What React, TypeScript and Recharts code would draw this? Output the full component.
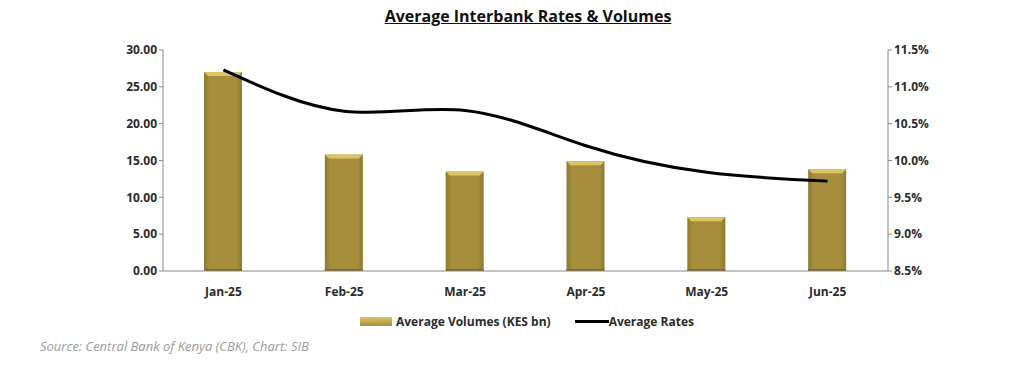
import { ComposedChart, Bar, Line, XAxis, YAxis } from "recharts";

const months = ["Jan-25", "Feb-25", "Mar-25", "Apr-25", "May-25", "Jun-25"];
const volumes = [27.0, 15.8, 13.5, 14.9, 7.3, 13.8]; // KES bn
const rates = [11.23, 10.67, 10.68, 10.2, 9.84, 9.72]; // %
const volumeTicks = [0, 5, 10, 15, 20, 25, 30];
const rateTicks = [8.5, 9, 9.5, 10, 10.5, 11, 11.5];
const bandTicks = [1, 2, 3, 4, 5]; // boundaries between months

const data = months.map((m, i) => ({ month: m, volume: volumes[i], rate: rates[i] }));

const FONT = "'Open Sans', 'Liberation Sans', sans-serif";
const tickStyle = { fontSize: 12, fontWeight: 700, fill: "#2b2b2b", fontFamily: FONT };

function GoldBar(props: any) {
  const { x, y, width, height } = props;
  if (!height || height <= 0) return null;
  const b = 4;
  return (
    <g>
      <rect x={x} y={y} width={width} height={height} fill="url(#goldFill)" />
      <polygon
        points={`${x},${y} ${x + width},${y} ${x + width - b},${y + b} ${x + b},${y + b}`}
        fill="#dcc466"
      />
      <rect x={x} y={y + height - 2} width={width} height={2} fill="#7d6a2a" />
    </g>
  );
}

export default function App() {
  return (
    <div style={{ position: "absolute", left: 0, top: 0, width: 1024, height: 379, background: "#fff" }}>
      <div
        style={{
          position: "absolute",
          top: 5,
          left: 0,
          width: 1024,
          paddingLeft: 32,
          boxSizing: "border-box",
          textAlign: "center",
          fontFamily: FONT,
          fontSize: 16,
          fontWeight: 700,
          textDecoration: "underline",
          color: "#111",
        }}
      >
        Average Interbank Rates &amp; Volumes
      </div>
      <ComposedChart
        width={1024}
        height={379}
        data={data}
        margin={{ top: 50, right: 76, left: 103, bottom: 78 }}
      >
        <defs>
          <linearGradient id="goldFill" x1="0" y1="0" x2="1" y2="0">
            <stop offset="0%" stopColor="#8e792f" />
            <stop offset="15%" stopColor="#a68e3c" />
            <stop offset="85%" stopColor="#a68e3c" />
            <stop offset="100%" stopColor="#8e792f" />
          </linearGradient>
        </defs>
        <XAxis
          dataKey="month"
          tick={tickStyle}
          tickLine={false}
          stroke="#888"
          height={30}
          tickMargin={10}
        />
        <XAxis
          xAxisId="bands"
          type="number"
          domain={[0, 6]}
          ticks={bandTicks}
          tick={false}
          axisLine={false}
          tickSize={5}
          stroke="#888"
          height={0}
          allowDataOverflow
        />
        <YAxis
          yAxisId="left"
          domain={[0, 30]}
          ticks={volumeTicks}
          tickFormatter={(v: number) => v.toFixed(2)}
          tick={tickStyle}
          stroke="#888"
          tickSize={4}
          width={60}
          interval={0}
        />
        <YAxis
          yAxisId="right"
          orientation="right"
          domain={[8.5, 11.5]}
          ticks={rateTicks}
          tickFormatter={(v: number) => v.toFixed(1) + "%"}
          tick={tickStyle}
          stroke="#888"
          tickSize={4}
          width={60}
          interval={0}
        />
        <Bar
          yAxisId="left"
          dataKey="volume"
          name="Average Volumes (KES bn)"
          barSize={38}
          shape={<GoldBar />}
          isAnimationActive={false}
        />
        <Line
          yAxisId="right"
          type="natural"
          dataKey="rate"
          name="Average Rates"
          stroke="#000"
          strokeWidth={3}
          dot={false}
          activeDot={false}
          isAnimationActive={false}
        />
      </ComposedChart>
      <div
        style={{
          position: "absolute",
          top: 313,
          left: 360,
          display: "flex",
          alignItems: "center",
          fontFamily: FONT,
          fontSize: 12,
          fontWeight: 700,
          color: "#2b2b2b",
        }}
      >
        <span style={{ display: "inline-block", width: 32, height: 9, background: "linear-gradient(#dcc466, #a88f3e)", marginRight: 4 }} />
        <span>Average Volumes (KES bn)</span>
        <span style={{ display: "inline-block", width: 34, height: 3, background: "#000", marginLeft: 24 }} />
        <span>Average Rates</span>
      </div>
      <div
        style={{
          position: "absolute",
          left: 40,
          top: 337,
          fontFamily: FONT,
          fontSize: 13,
          fontStyle: "italic",
          color: "#9a9a9a",
        }}
      >
        Source: Central Bank of Kenya (CBK), Chart: SIB
      </div>
    </div>
  );
}
